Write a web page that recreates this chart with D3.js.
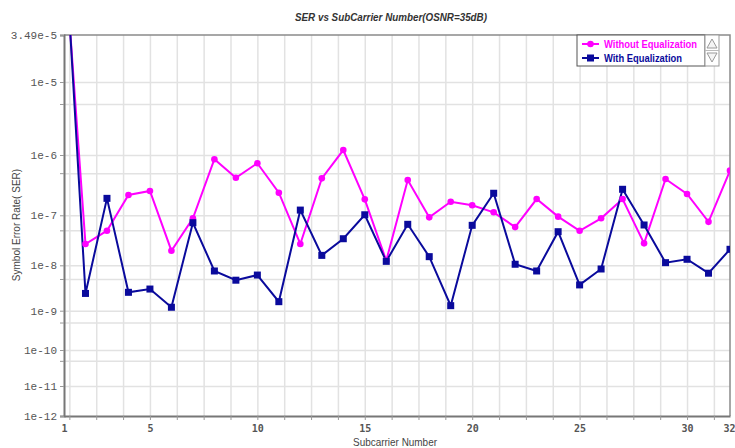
<!DOCTYPE html>
<meta charset="utf-8">

<style>
body { margin: 0; background: #fff; }

.grid line {
  stroke: #e2e2e2;
  stroke-width: 1.5px;
}
.grid path { stroke-width: 0; }

.yaxis text {
  font-family: "Liberation Mono", "DejaVu Sans Mono", monospace;
  font-size: 11px;
  fill: #555;
}
.xaxis text {
  font-family: "DejaVu Sans Mono", "Liberation Mono", monospace;
  font-weight: bold;
  font-size: 10px;
  fill: #555;
}
.line {
  fill: none;
  stroke-width: 2px;
}
</style>

<body>
<script src="https://d3js.org/d3.v7.min.js"></script>
<script>

// subcarrier index (x categories)
var subcarriers = [1, 2, 3, 4, 5, 6, 7, 8, 9, 10, 11, 12, 13, 14, 15, 16,
                   17, 18, 19, 20, 21, 22, 23, 24, 25, 26, 27, 28, 29, 30, 31, 32];

// symbol error rate
var serWithout = [3.8e-4, 2.67e-8, 4.92e-8, 2.17e-7, 2.53e-7, 1.96e-8, 8.7e-8, 8.5e-7,
                  4.2e-7, 7.3e-7, 2.37e-7, 2.67e-8, 4.1e-7, 1.17e-6, 1.84e-7, 1.24e-8,
                  3.85e-7, 9.1e-8, 1.68e-7, 1.47e-7, 1.12e-7, 5.8e-8, 1.86e-7, 9.4e-8,
                  4.9e-8, 8.7e-8, 1.86e-7, 2.75e-8, 4.0e-7, 2.26e-7, 7.4e-8, 5.5e-7];
var serWith = [6.5e-4, 2.4e-9, 1.91e-7, 2.54e-9, 3.0e-9, 1.19e-9, 7.1e-8, 7.5e-9,
               4.7e-9, 6.1e-9, 1.58e-9, 1.22e-7, 1.58e-8, 3.4e-8, 1.02e-7, 1.2e-8,
               6.6e-8, 1.49e-8, 1.29e-9, 6.3e-8, 2.32e-7, 1.05e-8, 7.5e-9, 4.7e-8,
               3.7e-9, 8.3e-9, 2.7e-7, 6.4e-8, 1.13e-8, 1.32e-8, 6.7e-9, 2.09e-8];

// tick labels
var xTickVals = [1, 5, 10, 15, 20, 25, 30, 32];
var yTickVals = [3.49e-5, 1e-5, 1e-6, 1e-7, 1e-8, 1e-9, 1e-10, 1e-11, 1e-12];
var yTickLabels = ["3.49e-5", "1e-5", "1e-6", "1e-7", "1e-8", "1e-9", "1e-10", "1e-11", "1e-12"];
var yMinorVals = [5e-6, 5e-7, 5e-8, 5e-9, 5e-10, 5e-11];
var xGridVals = [1.25, 2.5, 3.75, 5, 6.25, 7.5, 8.75, 10, 11.25, 12.5, 13.75, 15, 16.25, 17.5,
                 18.75, 20, 21.25, 22.5, 23.75, 25, 26.25, 27.5, 28.75, 30, 31.25];

var seriesNames = ["Without Equalization", "With Equalization"];
var seriesColors = ["#ff00ff", "#0a0a9c"];

var margin = {top: 35, right: 5, bottom: 32, left: 64},
    width = 735 - margin.left - margin.right,
    height = 448 - margin.top - margin.bottom;

// x: linear subcarrier index
var x = d3.scaleLinear().domain([1, 32]).range([0, width]);

// y: the original plot spaces decades unevenly (compressed toward low SER),
// so map log10(SER) piecewise onto the measured decade spacing
var yLog = d3.scaleLinear()
    .domain(yTickVals.map(Math.log10))
    .range([0, 0.1234, 0.315, 0.4732, 0.6045, 0.7236, 0.8268, 0.9213, 1].map(function(f) { return f * height; }));
function y(v) { return yLog(Math.log10(v)); }

var svg = d3.select("body").append("svg")
    .attr("width", 735)
    .attr("height", 448);

var g = svg.append("g")
    .attr("transform", "translate(" + margin.left + "," + margin.top + ")");

// title
svg.append("text")
  .attr("x", 391)
  .attr("y", 21)
  .attr("text-anchor", "middle")
  .attr("textLength", 192)
  .attr("lengthAdjust", "spacingAndGlyphs")
  .style("font-family", "'Liberation Sans', Arial, sans-serif")
  .style("font-size", "11.5px")
  .style("font-weight", "bold")
  .style("font-style", "italic")
  .style("fill", "#333")
  .text("SER vs SubCarrier Number(OSNR=35dB)");

// vertical gridlines
g.append("g")
  .attr("class", "grid")
  .attr("transform", "translate(0," + height + ")")
  .call(d3.axisBottom(x).tickValues(xGridVals).tickSize(-height).tickFormat(""));

// horizontal gridlines (decades + minor)
g.append("g")
  .attr("class", "grid")
  .call(d3.axisLeft(yLog)
      .tickValues(yTickVals.slice(1, -1).concat(yMinorVals).map(Math.log10))
      .tickSize(-width).tickFormat(""));

// frame top / right
g.append("path")
  .attr("d", "M0,0H" + width + "V" + height)
  .attr("fill", "none")
  .attr("stroke", "#8a8a8a")
  .attr("stroke-width", 1.5);

// left axis
var gy = g.append("g")
  .attr("class", "yaxis")
  .call(d3.axisLeft(yLog)
      .tickValues(yTickVals.map(Math.log10))
      .tickFormat(function(d, i) { return yTickLabels[i]; })
      .tickSize(4).tickPadding(3));
gy.select(".domain").attr("stroke", "#777").attr("stroke-width", 2);
gy.selectAll(".tick line").attr("stroke", "#999");

// minor left ticks
g.append("g")
  .call(d3.axisLeft(yLog).tickValues(yMinorVals.map(Math.log10)).tickSize(4).tickFormat(""))
  .call(function(s) {
    s.select(".domain").remove();
    s.selectAll(".tick line").attr("stroke", "#999");
  });

// bottom axis
var gx = g.append("g")
  .attr("class", "xaxis")
  .attr("transform", "translate(0," + height + ")")
  .call(d3.axisBottom(x).tickValues(xTickVals).tickSize(0).tickPadding(9));
gx.select(".domain").attr("stroke", "#777").attr("stroke-width", 2);
// last label pulled inside the window edge
gx.selectAll(".tick text")
  .filter(function(d) { return d == 32; })
  .attr("text-anchor", "end")
  .attr("dx", 5);

g.append("g")
  .attr("transform", "translate(0," + height + ")")
  .call(d3.axisBottom(x).tickValues(xGridVals).tickSize(4).tickFormat(""))
  .call(function(s) {
    s.select(".domain").remove();
    s.selectAll(".tick line").attr("stroke", "#999");
  });

// axis titles
svg.append("text")
  .attr("transform", "rotate(-90)")
  .attr("x", -225)
  .attr("y", 20)
  .attr("text-anchor", "middle")
  .style("font-family", "'Liberation Sans', Arial, sans-serif")
  .style("font-size", "10px")
  .style("fill", "#444")
  .text("Symbol Error Rate( SER)");

svg.append("text")
  .attr("x", 395)
  .attr("y", 446)
  .attr("text-anchor", "middle")
  .attr("textLength", 84)
  .attr("lengthAdjust", "spacingAndGlyphs")
  .style("font-family", "'Liberation Sans', Arial, sans-serif")
  .style("font-size", "10.5px")
  .style("fill", "#444")
  .text("Subcarrier Number");

// data
svg.append("clipPath").attr("id", "plotclip")
  .append("rect").attr("width", width).attr("height", height);

var plot = g.append("g").attr("clip-path", "url(#plotclip)");

var series = [serWithout, serWith];
var line = d3.line()
  .x(function(d, i) { return x(subcarriers[i]); })
  .y(function(d) { return y(d); });

series.forEach(function(vals, k) {
  plot.append("path")
    .datum(vals)
    .attr("class", "line")
    .attr("stroke", seriesColors[k])
    .attr("d", line);
});

plot.selectAll("circle.pt")
  .data(serWithout)
  .enter().append("circle")
    .attr("class", "pt")
    .attr("cx", function(d, i) { return x(subcarriers[i]); })
    .attr("cy", function(d) { return y(d); })
    .attr("r", 3.3)
    .attr("fill", seriesColors[0]);

plot.selectAll("rect.pt")
  .data(serWith)
  .enter().append("rect")
    .attr("class", "pt")
    .attr("x", function(d, i) { return x(subcarriers[i]) - 3.5; })
    .attr("y", function(d) { return y(d) - 3.5; })
    .attr("width", 7)
    .attr("height", 7)
    .attr("fill", seriesColors[1]);

// legend
var legendTextLen = [93, 78];
var lg = svg.append("g").attr("transform", "translate(577,35)");
lg.append("rect")
  .attr("width", 128).attr("height", 31)
  .attr("fill", "#fff").attr("stroke", "#555");

seriesNames.forEach(function(name, k) {
  var yy = 9 + k * 14;
  lg.append("line")
    .attr("x1", 5).attr("x2", 22).attr("y1", yy).attr("y2", yy)
    .attr("stroke", seriesColors[k]).attr("stroke-width", 2);
  if (k == 0) {
    lg.append("circle").attr("cx", 13.5).attr("cy", yy).attr("r", 3.3).attr("fill", seriesColors[k]);
  } else {
    lg.append("rect").attr("x", 10).attr("y", yy - 3.5).attr("width", 7).attr("height", 7).attr("fill", seriesColors[k]);
  }
  lg.append("text")
    .attr("x", 27).attr("y", yy + 4)
    .attr("textLength", legendTextLen[k])
    .attr("lengthAdjust", "spacingAndGlyphs")
    .style("font-family", "'Liberation Sans', Arial, sans-serif")
    .style("font-size", "11px")
    .style("font-weight", "bold")
    .style("fill", seriesColors[k])
    .text(name);
});

// scroll arrows next to the legend
var sc = svg.append("g").attr("transform", "translate(705,35)");
sc.append("rect").attr("width", 14).attr("height", 31).attr("fill", "#fff").attr("stroke", "#999");
sc.append("line").attr("x1", 0).attr("x2", 14).attr("y1", 15.5).attr("y2", 15.5).attr("stroke", "#bbb");
sc.append("path").attr("d", "M2,13L7,4L12,13Z").attr("fill", "#f4f4f4").attr("stroke", "#999");
sc.append("path").attr("d", "M2,18L7,27L12,18Z").attr("fill", "#f4f4f4").attr("stroke", "#999");

</script>
</body>
